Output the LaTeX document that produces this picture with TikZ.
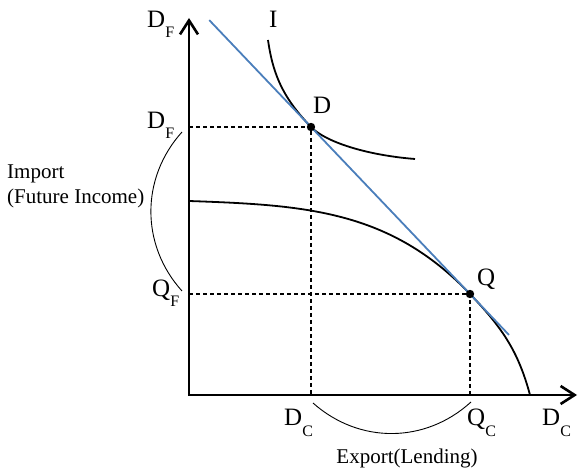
\documentclass[tikz,border=0pt]{standalone}
\usepackage{fontspec}
\setmainfont{Liberation Serif}
\usetikzlibrary{arrows.meta,positioning,calc}
\definecolor{budget}{HTML}{4A7EBB}
\newcommand\lowsub[1]{\raisebox{-10pt}{\fontsize{16}{16}\selectfont #1}}

\begin{document}
\begin{tikzpicture}[x=1pt,y=1pt,
    lbl/.style={inner sep=0pt,font=\fontsize{25}{29}\selectfont},
    note/.style={inner sep=0pt,font=\fontsize{21}{25}\selectfont},
    guide/.style={line width=1.1pt,dash pattern=on 4pt off 3pt},
    curve/.style={line width=1.8pt},
    span/.style={line width=0.9pt}]
  \useasboundingbox (0,0) rectangle (578,471);
  % points of the diagram
  \coordinate (O) at (189,76);
  \coordinate (ytop) at (189,453);
  \coordinate (xend) at (577,76);
  \coordinate (D) at (311,344);
  \coordinate (Q) at (470,177);
  \coordinate (Dy) at (189,344);
  \coordinate (Qy) at (189,177);
  \coordinate (Dx) at (311,76);
  \coordinate (Qx) at (470,76);

  % axes
  \draw[line width=2.6pt,line join=miter,
        {Straight Barb[length=14pt,width=18pt]}-{Straight Barb[length=14pt,width=18pt]}]
        (ytop) |- (xend);

  % production frontier
  \coordinate (ppf0) at (189,270);
  \coordinate (ppf1) at (530,76);
  \draw[curve] (ppf0) to[out=-2,in=133.6] (Q) to[out=-46.4,in=105] (ppf1);
  % indifference curve
  \coordinate (ic0) at (268,431);
  \coordinate (ic1) at (415,312);
  \draw[curve] (ic0) to[out=-82,in=133.6] (D)
        .. controls (325,329.5) and (365,316) .. (ic1);
  % price line
  \draw[budget,line width=1.8pt] ($(D)!-0.64!(Q)$) -- ($(D)!1.245!(Q)$);

  \draw[guide] (Dy) -- (D) -- (Dx);
  \draw[guide] (Qy) -- (Q) -- (Qx);
  \fill (D) circle (4.2pt);
  \fill (Q) circle (4.2pt);

  % labels
  \node[lbl,anchor=base west] (dftop) at (147,443) {D\lowsub{F}};
  \node[lbl,anchor=base west] (dfmid) at (147,342) {D\lowsub{F}};
  \node[lbl,anchor=base west] (qf) at (152,174) {Q\lowsub{F}};
  \node[lbl,anchor=base west] (dc) at (284,45) {D\lowsub{C}};
  \node[lbl,anchor=base west] (qc) at (467,45) {Q\lowsub{C}};
  \node[lbl,anchor=base west] (dcend) at (542,45) {D\lowsub{C}};
  \node[lbl,anchor=base west] (ilbl) at (269,443) {I};
  \node[lbl,above right=13pt and 2pt of D] (dlbl) {D};
  \node[lbl,anchor=base west] (qlbl) at ($(Q)+(7,8)$) {Q};
  \node[note,anchor=west,align=left] (import) at (7,285) {Import\\(Future Income)};
  \node[note,anchor=base] (export) at (407,8) {Export(Lending)};

  % braces for trade volumes
  \coordinate (impA) at (182,339);
  \coordinate (impB) at (182,180);
  \draw[span] (impA) to[bend right=42] (impB);
  \coordinate (expA) at (313,68);
  \coordinate (expB) at (471,69);
  \draw[span] (expA) to[bend right=42] (expB);
\end{tikzpicture}
\end{document}
